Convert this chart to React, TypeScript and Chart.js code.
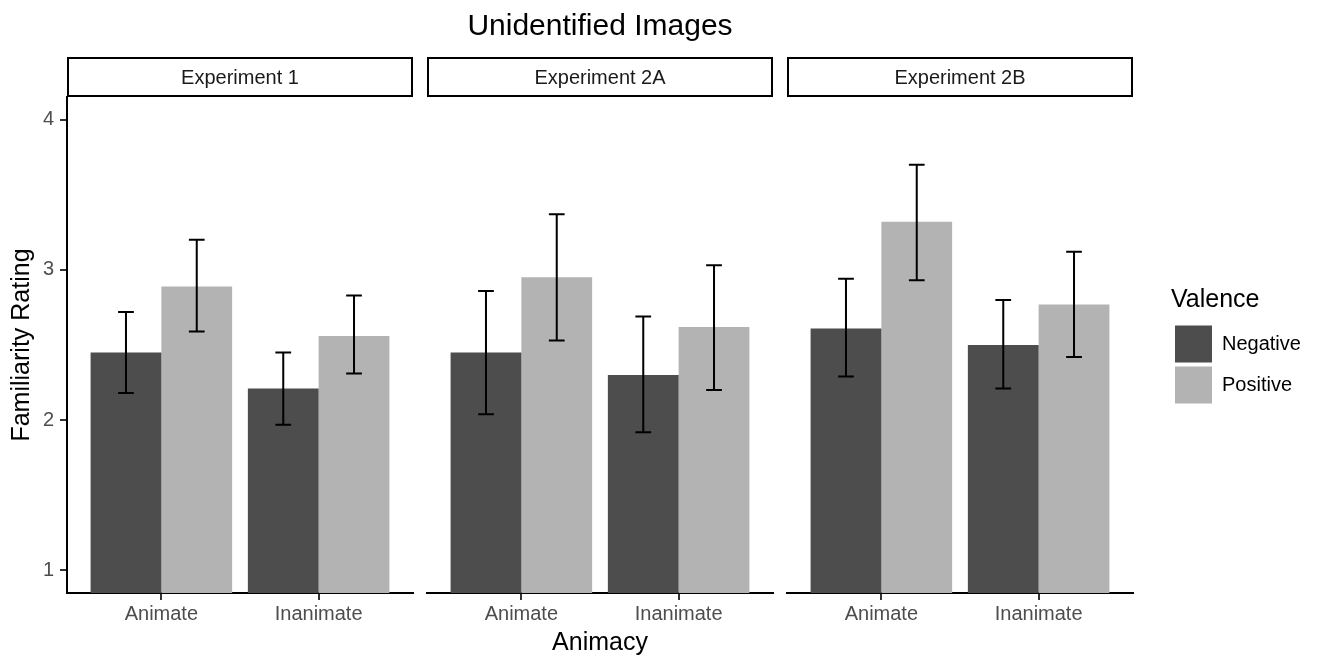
import React, { useEffect, useRef } from 'react';
import { Chart, registerables } from 'chart.js';

Chart.register(...registerables);

const FONT = '"Liberation Sans", Arial, Helvetica, sans-serif';
Chart.defaults.font.family = FONT;

// ---------- data ----------
const chartTitle = 'Unidentified Images';
const xAxisTitle = 'Animacy';
const yAxisTitle = 'Familiarity Rating';
const legendTitle = 'Valence';
const animacyCategories = ['Animate', 'Inanimate'];
const valenceLevels = ['Negative', 'Positive'];
const experimentLabels = ['Experiment 1', 'Experiment 2A', 'Experiment 2B'];
const yTickValues = [1, 2, 3, 4];

const exp1Negative = [2.45, 2.21];
const exp1NegativeLow = [2.18, 1.97];
const exp1NegativeHigh = [2.72, 2.45];
const exp1Positive = [2.89, 2.56];
const exp1PositiveLow = [2.59, 2.31];
const exp1PositiveHigh = [3.2, 2.83];

const exp2ANegative = [2.45, 2.3];
const exp2ANegativeLow = [2.04, 1.92];
const exp2ANegativeHigh = [2.86, 2.69];
const exp2APositive = [2.95, 2.62];
const exp2APositiveLow = [2.53, 2.2];
const exp2APositiveHigh = [3.37, 3.03];

const exp2BNegative = [2.61, 2.5];
const exp2BNegativeLow = [2.29, 2.21];
const exp2BNegativeHigh = [2.94, 2.8];
const exp2BPositive = [3.32, 2.77];
const exp2BPositiveLow = [2.93, 2.42];
const exp2BPositiveHigh = [3.7, 3.12];

const experimentSeries = [
  { neg: exp1Negative, negLo: exp1NegativeLow, negHi: exp1NegativeHigh, pos: exp1Positive, posLo: exp1PositiveLow, posHi: exp1PositiveHigh },
  { neg: exp2ANegative, negLo: exp2ANegativeLow, negHi: exp2ANegativeHigh, pos: exp2APositive, posLo: exp2APositiveLow, posHi: exp2APositiveHigh },
  { neg: exp2BNegative, negLo: exp2BNegativeLow, negHi: exp2BNegativeHigh, pos: exp2BPositive, posLo: exp2BPositiveLow, posHi: exp2BPositiveHigh },
];

// ---------- styling / layout ----------
const NEG_COLOR = '#4D4D4D';
const POS_COLOR = '#B3B3B3';
const Y_MIN = 1 - 0.05 * 3;
const Y_MAX = 4 + 0.05 * 3;
const X_MIN = 1 - 0.6;
const X_MAX = animacyCategories.length + 0.6;
const H = 657;
const PANEL_TOP = 97;
const X_AXIS_H = 64;
const PANEL_W = 346;

const canvases = [
  { left: 0, width: 420 },
  { left: 420, width: 360 },
  { left: 780, width: 540 },
];

const errorBarPlugin = {
  id: 'errorBars',
  afterDatasetsDraw(chart: any) {
    const ctx = chart.ctx;
    const yScale = chart.scales.y;
    ctx.save();
    ctx.strokeStyle = '#000';
    ctx.lineWidth = 2;
    chart.data.datasets.forEach((ds: any, i: number) => {
      const meta = chart.getDatasetMeta(i);
      meta.data.forEach((bar: any, j: number) => {
        const p = bar.getProps(['x', 'width'], true);
        const half = p.width / 9;
        const yLo = yScale.getPixelForValue(ds.errorLow[j]);
        const yHi = yScale.getPixelForValue(ds.errorHigh[j]);
        ctx.beginPath();
        ctx.moveTo(p.x, yLo);
        ctx.lineTo(p.x, yHi);
        ctx.moveTo(p.x - half, yLo);
        ctx.lineTo(p.x + half, yLo);
        ctx.moveTo(p.x - half, yHi);
        ctx.lineTo(p.x + half, yHi);
        ctx.stroke();
      });
    });
    ctx.restore();
  },
};

const stripPlugin = {
  id: 'facetStrip',
  afterDraw(chart: any, _args: any, opts: any) {
    const { left, right, top } = chart.chartArea;
    const ctx = chart.ctx;
    ctx.save();
    ctx.strokeStyle = '#000';
    ctx.lineWidth = 2;
    ctx.strokeRect(left + 1, top - 39, right - left - 2, 38);
    ctx.fillStyle = '#1A1A1A';
    ctx.font = `20px ${FONT}`;
    ctx.textAlign = 'center';
    ctx.textBaseline = 'middle';
    ctx.fillText(opts.text, (left + right) / 2, top - 19);
    ctx.restore();
  },
};

function buildConfig(index: number): any {
  const s = experimentSeries[index];
  const isFirst = index === 0;
  const isMiddle = index === 1;
  const isLast = index === 2;

  let padRight = 7;
  if (isLast) {
    const m = document.createElement('canvas').getContext('2d') as CanvasRenderingContext2D;
    m.font = `20px ${FONT}`;
    const tw = Math.max(...valenceLevels.map((t) => m.measureText(t).width));
    const legendW = 4 + 37 + 10 + tw + 10;
    const areaRight = 7 + PANEL_W;
    const gap = 38;
    padRight = canvases[2].width - areaRight - gap - legendW;
  }

  const scales: any = {
    x: {
      type: 'linear',
      position: 'bottom',
      offset: false,
      min: X_MIN,
      max: X_MAX,
      afterBuildTicks: (sc: any) => {
        sc.ticks = animacyCategories.map((_, i) => ({ value: i + 1 }));
      },
      afterFit: (sc: any) => {
        sc.height = X_AXIS_H;
      },
      ticks: {
        callback: (v: number) => animacyCategories[Math.round(v) - 1] ?? '',
        font: { size: 20 },
        color: '#4D4D4D',
        padding: 2,
        maxRotation: 0,
        autoSkip: false,
      },
      grid: {
        display: true,
        offset: false,
        drawOnChartArea: false,
        drawTicks: true,
        tickLength: 7,
        color: '#333333',
        lineWidth: 2,
      },
      border: { display: true, color: '#000', width: 2 },
      title: isMiddle
        ? { display: true, text: xAxisTitle, font: { size: 25, lineHeight: 1 }, color: '#000', padding: { top: 0, bottom: 1.5 } }
        : { display: false },
    },
    y: {
      type: 'linear',
      position: 'left',
      display: isFirst,
      min: Y_MIN,
      max: Y_MAX,
      afterBuildTicks: (sc: any) => {
        sc.ticks = yTickValues.map((v) => ({ value: v }));
      },
      ticks: { font: { size: 20 }, color: '#4D4D4D', padding: 6, callback: (v: number) => String(v) },
      grid: { display: true, drawOnChartArea: false, drawTicks: true, tickLength: 7, color: '#333333', lineWidth: 2 },
      border: { display: true, color: '#000', width: 2 },
      title: { display: true, text: yAxisTitle, font: { size: 25, lineHeight: 1 }, color: '#000', padding: { top: 10, bottom: 0 } },
    },
  };
  if (isFirst) {
    scales.y.afterFit = (sc: any) => {
      sc.width = 67;
    };
  }
  if (isLast) {
    scales.gap = {
      type: 'linear',
      position: 'right',
      display: true,
      grid: { display: false },
      border: { display: false },
      ticks: { display: false },
      afterFit: (sc: any) => {
        sc.width = 38;
      },
    };
  }

  return {
    type: 'bar',
    data: {
      datasets: [
        {
          label: valenceLevels[0],
          data: s.neg.map((v, i) => ({ x: i + 1, y: v })),
          errorLow: s.negLo,
          errorHigh: s.negHi,
          backgroundColor: NEG_COLOR,
          borderWidth: 0,
          base: Y_MIN,
          categoryPercentage: 0.9,
          barPercentage: 1,
        },
        {
          label: valenceLevels[1],
          data: s.pos.map((v, i) => ({ x: i + 1, y: v })),
          errorLow: s.posLo,
          errorHigh: s.posHi,
          backgroundColor: POS_COLOR,
          borderWidth: 0,
          base: Y_MIN,
          categoryPercentage: 0.9,
          barPercentage: 1,
        },
      ],
    },
    options: {
      animation: false,
      responsive: false,
      maintainAspectRatio: false,
      devicePixelRatio: 1,
      events: [],
      layout: {
        padding: {
          top: isMiddle ? 0 : PANEL_TOP,
          left: isFirst ? 0 : 7,
          right: padRight,
          bottom: 0,
        },
      },
      scales,
      plugins: {
        tooltip: { enabled: false },
        title: isMiddle
          ? {
              display: true,
              text: chartTitle,
              font: { size: 30, weight: 'normal', lineHeight: 1.2 },
              color: '#000',
              padding: { top: 9, bottom: PANEL_TOP - 9 - 36 },
            }
          : { display: false },
        legend: isLast
          ? {
              display: true,
              position: 'right',
              align: 'center',
              fullSize: false,
              maxWidth: 400,
              labels: { boxWidth: 37, boxHeight: 37, padding: 4, font: { size: 20 }, color: '#000' },
              title: {
                display: true,
                text: legendTitle,
                position: 'start',
                font: { size: 25, lineHeight: 1.2 },
                color: '#000',
                padding: { top: 5, bottom: 4 },
              },
            }
          : { display: false },
        facetStrip: { text: experimentLabels[index] },
      },
    },
    plugins: [errorBarPlugin, stripPlugin],
  };
}

function FacetPanel({ index }: { index: number }) {
  const ref = useRef<HTMLCanvasElement | null>(null);
  useEffect(() => {
    if (!ref.current) return;
    const chart = new Chart(ref.current, buildConfig(index));
    return () => chart.destroy();
  }, [index]);
  const c = canvases[index];
  return (
    <canvas
      ref={ref}
      width={c.width}
      height={H}
      style={{ position: 'absolute', left: c.left, top: 0, width: c.width, height: H, display: 'block' }}
    />
  );
}

export default function App() {
  return (
    <div
      style={{
        position: 'absolute',
        left: 0,
        top: 0,
        width: 1320,
        height: H,
        background: '#fff',
        overflow: 'hidden',
      }}
    >
      {experimentLabels.map((_, i) => (
        <FacetPanel key={i} index={i} />
      ))}
    </div>
  );
}
